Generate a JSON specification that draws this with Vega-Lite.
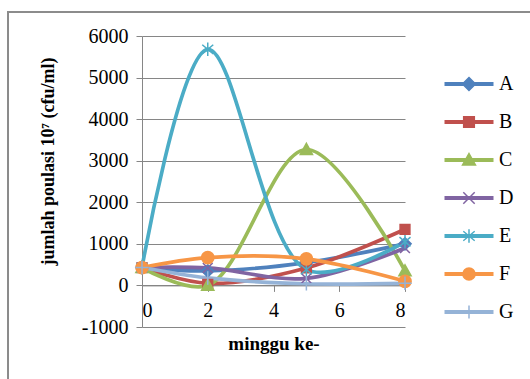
{
  "$schema": "https://vega.github.io/schema/vega-lite/v6.json",
  "width": 263,
  "height": 291,
  "autosize": {"type": "none"},
  "padding": {"left": 142, "top": 36, "right": 125, "bottom": 52},
  "background": "white",
  "title": {"text": "(a)", "font": "Liberation Serif", "fontSize": 20, "fontWeight": "normal", "color": "black", "anchor": "middle", "offset": 30},
  "config": {
    "view": {"stroke": null},
    "font": "Liberation Serif",
    "axis": {"labelFont": "Liberation Serif", "titleFont": "Liberation Serif", "labelColor": "black", "titleColor": "black", "domainColor": "#868686", "tickColor": "#868686", "gridColor": "#868686", "labelFontSize": 20, "titleFontSize": 18},
    "legend": {"title": null, "orient": "none", "legendX": 307, "legendY": 28, "padding": 0, "rowPadding": 8, "symbolSize": 1444, "symbolStrokeWidth": 1.5, "symbolOpacity": 1, "labelFont": "Liberation Serif", "labelFontSize": 20, "labelColor": "black", "labelOffset": 10}
  },
  "data": {
    "values": [
      {"s": "A", "w": 0, "v": 430}, {"s": "A", "w": 2, "v": 350}, {"s": "A", "w": 5, "v": 550}, {"s": "A", "w": 8, "v": 1000},
      {"s": "B", "w": 0, "v": 430}, {"s": "B", "w": 2, "v": 50}, {"s": "B", "w": 5, "v": 420}, {"s": "B", "w": 8, "v": 1350},
      {"s": "C", "w": 0, "v": 430}, {"s": "C", "w": 2, "v": 0}, {"s": "C", "w": 5, "v": 3270}, {"s": "C", "w": 8, "v": 350},
      {"s": "D", "w": 0, "v": 430}, {"s": "D", "w": 2, "v": 420}, {"s": "D", "w": 5, "v": 170}, {"s": "D", "w": 8, "v": 900},
      {"s": "E", "w": 0, "v": 430}, {"s": "E", "w": 2, "v": 5680}, {"s": "E", "w": 5, "v": 380}, {"s": "E", "w": 8, "v": 1050},
      {"s": "F", "w": 0, "v": 430}, {"s": "F", "w": 2, "v": 670}, {"s": "F", "w": 5, "v": 640}, {"s": "F", "w": 8, "v": 100},
      {"s": "G", "w": 0, "v": 430}, {"s": "G", "w": 2, "v": 180}, {"s": "G", "w": 5, "v": 40}, {"s": "G", "w": 8, "v": 50}
    ]
  },
  "encoding": {
    "x": {"field": "w", "type": "quantitative", "scale": {"domain": [0, 8], "nice": false},
      "axis": {"values": [0, 2, 4, 6, 8], "grid": false, "offset": -41.6, "tickSize": 6, "labelPadding": 9, "title": "minggu ke-", "titleFontWeight": "bold", "titleFontSize": 19, "titlePadding": 14, "domainColor": "#868686"}},
    "y": {"field": "v", "type": "quantitative", "scale": {"domain": [-1000, 6000], "nice": false, "zero": false},
      "axis": {"values": [-1000, 0, 1000, 2000, 3000, 4000, 5000, 6000], "labelExpr": "'' + datum.value", "tickSize": 6, "labelPadding": 8, "title": "jumlah poulasi 10⁷ (cfu/ml)", "titleFontWeight": "bold", "titleAngle": 270, "titleX": -94, "titleY": 125, "titleBaseline": "middle", "titleAlign": "center"}}
  },
  "layer": [
    {
      "mark": {"type": "rect", "filled": false, "stroke": "#8c8c8c", "strokeWidth": 1.5, "clip": false},
      "encoding": {
        "x": {"datum": -4.07, "type": "quantitative"},
        "x2": {"datum": 20},
        "y": {"datum": 6577, "type": "quantitative"},
        "y2": {"datum": -4000}
      }
    },
    {
      "mark": {"type": "line", "interpolate": "catmull-rom", "strokeWidth": 3.7},
      "encoding": {
        "color": {"field": "s", "type": "nominal", "legend": null,
          "scale": {"domain": ["A", "B", "C", "D", "E", "F", "G"], "range": ["#4F81BD", "#C0504D", "#9BBB59", "#8064A2", "#4BACC6", "#F79646", "#95B3D7"]}}
      }
    },
    {
      "mark": {"type": "point", "filled": true, "size": 150, "strokeWidth": 1.5, "opacity": 1},
      "encoding": {
        "color": {"field": "s", "type": "nominal", "legend": null},
        "shape": {"field": "s", "type": "nominal", "legend": null,
          "scale": {"domain": ["A", "B", "C", "D", "E", "F", "G"], "range": [
            "M0,-1L1,0L0,1L-1,0Z",
            "M-0.8,-0.8L0.8,-0.8L0.8,0.8L-0.8,0.8Z",
            "M0,-1L1,0.8L-1,0.8Z",
            "M-0.8,-0.8L0.8,0.8M-0.8,0.8L0.8,-0.8",
            "M0,-1.1L0,1.1M-0.9,-0.75L0.9,0.75M-0.9,0.75L0.9,-0.75",
            "circle",
            "M-1.1,0L1.1,0M0,-1.1L0,1.1"
          ]}},
        "stroke": {"field": "s", "type": "nominal", "legend": null,
          "scale": {"domain": ["A", "B", "C", "D", "E", "F", "G"], "range": ["#4F81BD", "#C0504D", "#9BBB59", "#8064A2", "#4BACC6", "#F79646", "#95B3D7"]}}
      }
    },
    {
      "transform": [{"filter": "datum.w > 100"}],
      "mark": {"type": "point", "strokeWidth": 1.5},
      "encoding": {
        "fill": {"field": "s", "type": "nominal",
          "scale": {"domain": ["A", "B", "C", "D", "E", "F", "G"], "range": ["#4F81BD", "#C0504D", "#9BBB59", "#8064A2", "#4BACC6", "#F79646", "#95B3D7"]}},
        "shape": {"field": "s", "type": "nominal",
          "scale": {"domain": ["A", "B", "C", "D", "E", "F", "G"], "range": [
            "M-1.25,-0.07L1.25,-0.07L1.25,0.07L-1.25,0.07ZM0,-0.34L0.34,0L0,0.34L-0.34,0Z",
            "M-1.25,-0.07L1.25,-0.07L1.25,0.07L-1.25,0.07ZM-0.28,-0.28L0.28,-0.28L0.28,0.28L-0.28,0.28Z",
            "M-1.25,-0.07L1.25,-0.07L1.25,0.07L-1.25,0.07ZM0,-0.34L0.34,0.26L-0.34,0.26Z",
            "M-1.25,-0.07L1.25,-0.07L1.25,0.07L-1.25,0.07ZM-0.3,-0.3L0.3,0.3M-0.3,0.3L0.3,-0.3",
            "M-1.25,-0.07L1.25,-0.07L1.25,0.07L-1.25,0.07ZM0,-0.36L0,0.36M-0.3,-0.25L0.3,0.25M-0.3,0.25L0.3,-0.25",
            "M-1.25,-0.07L1.25,-0.07L1.25,0.07L-1.25,0.07ZM-0.32,0A0.32,0.32,0,1,1,0.32,0A0.32,0.32,0,1,1,-0.32,0Z",
            "M-1.25,-0.07L1.25,-0.07L1.25,0.07L-1.25,0.07ZM0,-0.34L0,0.34"
          ]}},
        "stroke": {"field": "s", "type": "nominal",
          "scale": {"domain": ["A", "B", "C", "D", "E", "F", "G"], "range": ["#4F81BD", "#C0504D", "#9BBB59", "#8064A2", "#4BACC6", "#F79646", "#95B3D7"]}}
      }
    }
  ],
  "resolve": {"scale": {"shape": "independent", "fill": "independent", "stroke": "independent"}}
}
